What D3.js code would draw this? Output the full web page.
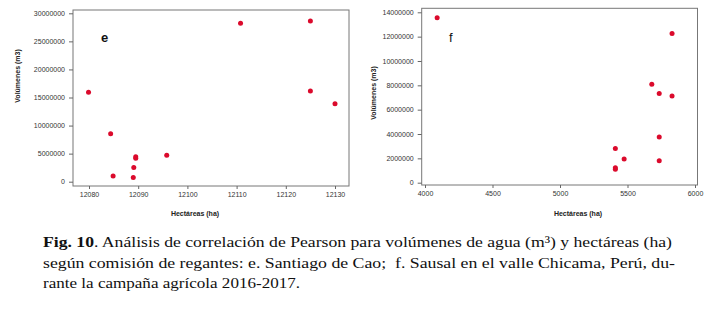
<!DOCTYPE html>
<html>
<head>
<meta charset="utf-8">
<script src="https://cdn.jsdelivr.net/npm/d3@7"></script>
<style>
  body { margin: 0; background: #fff; }
  svg { display: block; }
  .tick text { font-family: "Liberation Sans", Arial, sans-serif; font-size: 7px; fill: #333; }
  .tick line { stroke: #666; }
</style>
</head>
<body>
<svg id="chart" width="711" height="310"></svg>
<script>
// panel e: Santiago de Cao
const haE = [12079.9, 12084.4, 12084.9, 12089.0, 12089.1, 12089.5, 12089.5, 12095.8, 12110.8, 12125.0, 12125.0, 12130.0];
const volE = [15920000, 8550000, 1010000, 770000, 2550000, 4460000, 4160000, 4690000, 28220000, 28630000, 16160000, 13900000];
const xTicksE = [12080, 12090, 12100, 12110, 12120, 12130];
const yTicksE = [0, 5000000, 10000000, 15000000, 20000000, 25000000, 30000000];

// panel f: Sausal
const haF = [4090, 5830, 5680, 5735, 5830, 5735, 5410, 5475, 5735, 5410, 5410];
const volF = [13560000, 12250000, 8080000, 7320000, 7120000, 3750000, 2820000, 1950000, 1810000, 1230000, 1100000];
const xTicksF = [4000, 4500, 5000, 5500, 6000];
const yTicksF = [0, 2000000, 4000000, 6000000, 8000000, 10000000, 12000000, 14000000];

const captionLines = [
  ["Fig. 10", ". Análisis de correlación de Pearson para volúmenes de agua (m³) y hectáreas (ha)"],
  ["", "según comisión de regantes: e. Santiago de Cao;\u00a0 f. Sausal en el valle Chicama, Perú, du-"],
  ["", "rante la campaña agrícola 2016-2017."]
];

let svg = d3.select("#chart");

function panel(cfg) {
  //box first, then ticks hanging off the left and bottom edges
  let x = d3.scaleLinear().domain(cfg.xDom).range(cfg.xRange);
  let y = d3.scaleLinear().domain(cfg.yDom).range(cfg.yRange);

  svg.append("rect")
    .attr("x", cfg.box[0]).attr("y", cfg.box[1])
    .attr("width", cfg.box[2] - cfg.box[0]).attr("height", cfg.box[3] - cfg.box[1])
    .attr("fill", "none").attr("stroke", "#777").attr("stroke-width", 1);

  let gx = svg.append("g")
    .attr("transform", "translate(0," + cfg.box[3] + ")")
    .call(d3.axisBottom(x).tickValues(cfg.xTicks).tickSize(3).tickPadding(3.5).tickFormat(d3.format("d")));
  gx.select(".domain").remove();

  let gy = svg.append("g")
    .attr("transform", "translate(" + cfg.box[0] + ",0)")
    .call(d3.axisLeft(y).tickValues(cfg.yTicks).tickSize(4).tickPadding(4).tickFormat(d3.format("d")));
  gy.select(".domain").remove();

  svg.append("g")
    .selectAll("circle")
    .data(cfg.xs)
    .enter()
    .append("circle")
    .attr("cx", (d) => x(d))
    .attr("cy", (d, i) => y(cfg.ys[i]))
    .attr("r", 2.5)
    .attr("fill", "#db0a2c");

  svg.append("text")
    .text("Hectáreas (ha)")
    .attr("x", cfg.xTitle[0]).attr("y", cfg.xTitle[1])
    .attr("text-anchor", "middle")
    .attr("font-family", "Liberation Sans, Arial, sans-serif")
    .attr("font-size", 7).attr("font-weight", "bold").attr("fill", "#222");

  svg.append("text")
    .text("Volúmenes (m3)")
    .attr("transform", "translate(" + cfg.yTitle[0] + "," + cfg.yTitle[1] + ") rotate(-90)")
    .attr("text-anchor", "middle")
    .attr("font-family", "Liberation Sans, Arial, sans-serif")
    .attr("font-size", 7).attr("font-weight", "bold").attr("fill", "#222");

  svg.append("text")
    .text(cfg.letter)
    .attr("x", cfg.letterPos[0]).attr("y", cfg.letterPos[1])
    .attr("font-family", "Liberation Sans, Arial, sans-serif")
    .attr("font-size", 13).attr("font-weight", cfg.letterWeight).attr("fill", "#111");
}

panel({
  xs: haE, ys: volE, xTicks: xTicksE, yTicks: yTicksE,
  xDom: [12080, 12130], xRange: [89, 335],
  yDom: [0, 30000000], yRange: [181.7, 13.3],
  box: [73, 10, 349, 186],
  xTitle: [195, 216], yTitle: [19.5, 76],
  letter: "e", letterPos: [101, 42], letterWeight: "bold"
});

panel({
  xs: haF, ys: volF, xTicks: xTicksF, yTicks: yTicksF,
  xDom: [4000, 6000], xRange: [425, 695],
  yDom: [0, 14000000], yRange: [182.7, 12.3],
  box: [421.7, 8.3, 697.5, 185],
  xTitle: [578, 216], yTitle: [375.5, 93],
  letter: "f", letterPos: [449, 42], letterWeight: "normal"
});

// caption below both panels
let capY = [247, 267.5, 288];
let capW = [629, 632, 257];
captionLines.forEach((ln, i) => {
  let t = svg.append("text")
    .attr("x", 43).attr("y", capY[i])
    .attr("font-family", "Liberation Serif, Times New Roman, serif")
    .attr("font-size", 15.5).attr("fill", "#111")
    .attr("textLength", capW[i]).attr("lengthAdjust", "spacingAndGlyphs");
  if (ln[0]) t.append("tspan").attr("font-weight", "bold").text(ln[0]);
  t.append("tspan").text(ln[1]);
});
</script>
</body>
</html>
